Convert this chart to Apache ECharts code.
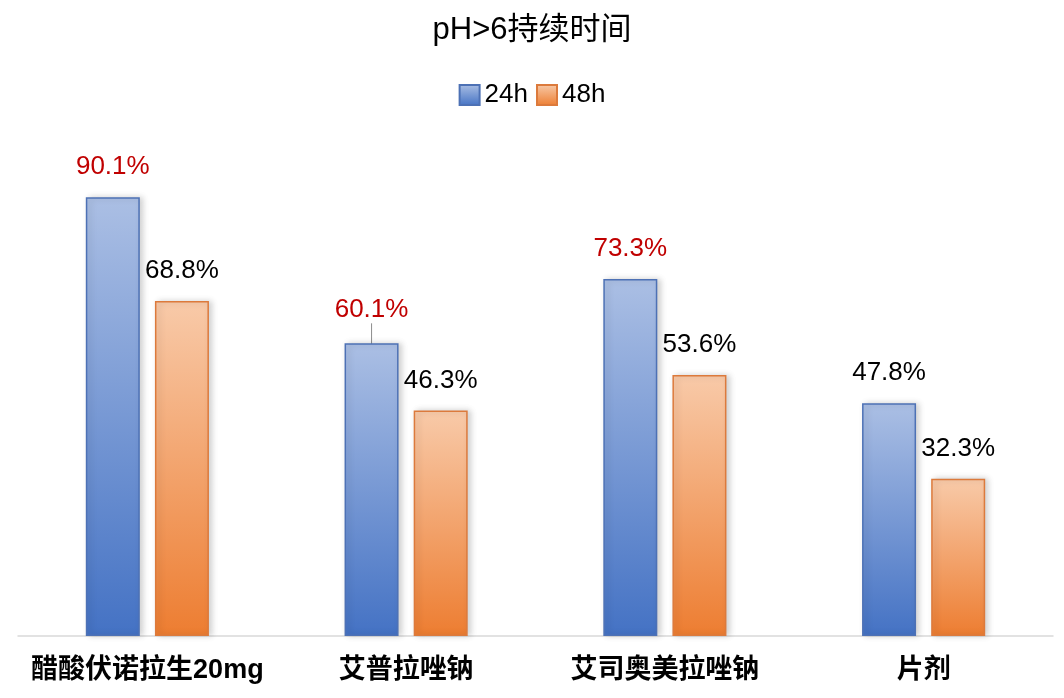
<!DOCTYPE html>
<html>
<head>
<meta charset="utf-8">
<script src="https://cdn.jsdelivr.net/npm/echarts@6/dist/echarts.min.js"></script>
<style>
  html, body { margin: 0; padding: 0; background: #fff; }
  #chart { width: 1064px; height: 698px; }
</style>
</head>
<body>
<div id="chart"></div>
<script>
var categories = ["醋酸伏诺拉生20mg", "艾普拉唑钠", "艾司奥美拉唑钠", "片剂"];
var seriesNames = ["24h", "48h"];
var values24h = [90.1, 60.1, 73.3, 47.8];
var values48h = [68.8, 46.3, 53.6, 32.3];
// 哪些标签是红色的
var red24h = [true, true, true, false];

var FONT = '"Liberation Sans", "Noto Sans CJK SC", sans-serif';

function grad(top, bottom) {
    return new echarts.graphic.LinearGradient(0, 0, 0, 1, [
        { offset: 0, color: top },
        { offset: 1, color: bottom }
    ]);
}

function makeData(vals, reds) {
    return vals.map(function (v, i) {
        var item = { value: v };
        if (reds && reds[i]) {
            item.label = { color: "#C00000" };
        }
        return item;
    });
}

var chart = echarts.init(document.getElementById("chart"));

var labelCommon = {
    show: true,
    position: "top",
    distance: 17,
    fontFamily: FONT,
    fontSize: 26,
    color: "#000",
    formatter: function (p) { return p.value.toFixed(1) + "%"; }
};

var data24 = makeData(values24h, red24h);
// 60.1% 的标签被拉开，带一根引线
data24[1].label = { color: "#C00000", distance: 6 };
data24[1].labelLine = { show: true, lineStyle: { color: "#8c8c8c", width: 1 } };

var option = {
    backgroundColor: "#fff",
    animation: false,
    title: {
        text: "pH>6持续时间",
        left: "center",
        top: 10,
        textStyle: { fontFamily: FONT, fontSize: 31, fontWeight: "normal", color: "#000" }
    },
    legend: {
        top: 77,
        left: "center",
        itemWidth: 20,
        itemHeight: 20,
        itemGap: 8,
        icon: "rect",
        textStyle: { fontFamily: FONT, fontSize: 26, color: "#000" },
        data: seriesNames
    },
    grid: { left: 18, right: 11, top: 149, bottom: 62 },
    xAxis: {
        type: "category",
        data: categories,
        axisLine: { lineStyle: { color: "#d9d9d9", width: 1.5 } },
        axisTick: { show: false },
        axisLabel: {
            interval: 0,
            margin: 21,
            fontFamily: FONT,
            fontSize: 27,
            fontWeight: "bold",
            color: "#000"
        }
    },
    yAxis: {
        type: "value",
        min: 0,
        max: 100,
        show: false,
        splitLine: { show: false }
    },
    series: [
        {
            name: "24h",
            type: "bar",
            barWidth: 54,
            barGap: "28%",
            data: data24,
            itemStyle: {
                color: grad("#abbfe4", "#4472c4"),
                borderColor: "#4d71b5",
                borderWidth: 1.5,
                shadowColor: "rgba(0,0,0,0.18)",
                shadowBlur: 6,
                shadowOffsetX: 3
            },
            label: labelCommon,
            labelLayout: function (p) {
                return p.dataIndex === 1 ? { dy: -14 } : {};
            },
            labelLine: { show: false }
        },
        {
            name: "48h",
            type: "bar",
            barWidth: 54,
            data: makeData(values48h, null),
            itemStyle: {
                color: grad("#f8caa9", "#ed7d31"),
                borderColor: "#dc7a3c",
                borderWidth: 1.5,
                shadowColor: "rgba(0,0,0,0.18)",
                shadowBlur: 6,
                shadowOffsetX: 3
            },
            label: labelCommon
        }
    ]
};

chart.setOption(option);
</script>
</body>
</html>
